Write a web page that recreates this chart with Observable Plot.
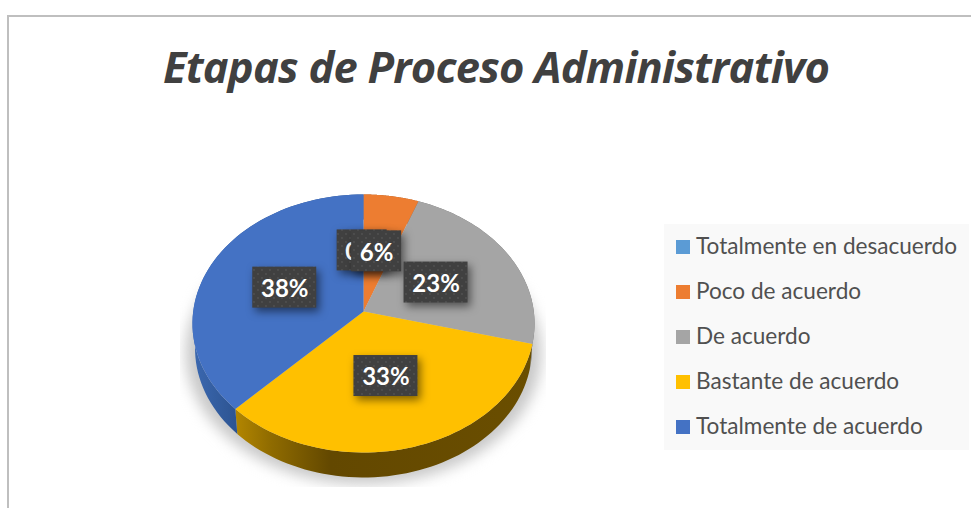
<!DOCTYPE html>
<html>
<head>
<meta charset="utf-8">
<script src="https://cdn.jsdelivr.net/npm/d3@7"></script>
<script src="https://cdn.jsdelivr.net/npm/@observablehq/plot@0.6"></script>
<style>
  html, body { margin: 0; padding: 0; background: #fff; overflow: hidden; }
  #stage { position: relative; width: 971px; height: 508px; overflow: hidden; font-family: Lato, sans-serif; }
  #stage svg { position: absolute; left: 0; top: 0; background: transparent; }
  #border { position: absolute; left: 7px; top: 15px; width: 980px; height: 520px; border-left: 2px solid #bfbfbf; border-top: 2px solid #bfbfbf; }
  #title { position: absolute; left: 0; width: 992px; top: 36px; margin: 0; text-align: center; font: italic 700 43.5px/62px "Open Sans", sans-serif; letter-spacing: -0.77px; color: #404040; white-space: nowrap; font-variant-ligatures: none; }
  #legend { position: absolute; left: 664px; top: 224px; width: 305px; height: 226px; background: #f9f9f9; color: #505050; font-size: 22.6px; font-variant-ligatures: none; }
  .row { position: absolute; left: 12px; height: 26px; display: flex; align-items: center; white-space: nowrap; }
  .swatch { width: 14px; height: 14px; margin-right: 6px; flex: none; }
  .name { position: relative; top: -2px; }
</style>
</head>
<body>
<div id="stage">
  <div id="border"></div>
  <h1 id="title"></h1>
  <div id="legend"></div>
</div>
<script>
const chartTitle = "Etapas de Proceso Administrativo";
const categories = ["Totalmente en desacuerdo", "Poco de acuerdo", "De acuerdo", "Bastante de acuerdo", "Totalmente de acuerdo"];
const values = [0, 5.7, 23.3, 33.4, 37.6];
const colors = ["#5b9bd5", "#ed7d31", "#a5a5a5", "#ffc000", "#4472c4"];
const wallFills = ["#3a6ea5", "#a04f15", "#6f6f6f", "url(#wallYellow)", "url(#wallBlue)"];

// Perspective view of the pie: unit circle tilted, nearer edge larger
const K = 0.093;
const rimDrop = 0.195;   // depth of the pie, in y units
const rimScale = 0.985;
const project = (f, r = 1) => {
  const a = f * 2 * Math.PI, X = r * Math.sin(a), Y = r * Math.cos(a), d = 1 + K * Y;
  return [X / d, Y / d];
};
const total = d3.sum(values);
let running = 0;
const slices = categories.map((name, i) => {
  const start = running / total;
  running += values[i];
  const end = running / total;
  return {name, value: values[i], start, end, wall: wallFills[i]};
});
const arcFractions = (s) => d3.range(0, 61).map((i) => s.start + (s.end - s.start) * i / 60);

const facePoints = slices.flatMap((s) =>
  s.value === 0 ? [] : [[0, 0], ...arcFractions(s).map((f) => project(f))].map(([x, y]) => ({name: s.name, x, y}))
);
const wallPoints = (s) => {
  const top = arcFractions(s).map((f) => project(f));
  const bottom = top.slice().reverse().map(([x, y]) => [x * rimScale, y - rimDrop]);
  return [...top, ...bottom].map(([x, y]) => ({x, y}));
};
const shadowPoints = d3.range(0, 120).map((i) => {
  const [x, y] = project(i / 120);
  return {x: x * 1.04, y: y * 1.02 - rimDrop - 0.03};
});

// Label boxes sit half way out along each slice's middle angle
const boxW = (d) => (d.value >= 10 ? 32 : 25) / 170.3;
const boxH = 20.5 / 127.9;
const labelNudge = -0.008;
const labels = slices.map((s) => {
  const [x, y] = project((s.start + s.end) / 2, 0.5);
  return {...s, x: x + labelNudge, y, label: Math.round(s.value) + "%"};
});

const defs = () => {
  const d = d3.create("svg:defs");
  const grad = (id, stops) => {
    const g = d.append("linearGradient").attr("id", id).attr("x1", 0).attr("x2", 1).attr("y1", 0).attr("y2", 0);
    stops.forEach(([o, c]) => g.append("stop").attr("offset", o).attr("stop-color", c));
  };
  grad("wallYellow", [[0, "#b38600"], [0.12, "#8f6b00"], [0.32, "#634800"], [1, "#6a4e00"]]);
  grad("wallBlue", [[0, "#3b68b0"], [0.27, "#2c5390"], [1, "#2c5390"]]);
  const p = d.append("pattern").attr("id", "dots").attr("patternUnits", "userSpaceOnUse").attr("width", 8).attr("height", 8);
  p.append("rect").attr("width", 8).attr("height", 8).attr("fill", "#404040");
  p.append("circle").attr("cx", 2).attr("cy", 2).attr("r", 0.9).attr("fill", "#525252");
  p.append("circle").attr("cx", 6).attr("cy", 6).attr("r", 0.9).attr("fill", "#525252");
  return d.node();
};

const chart = Plot.plot({
  width: 971,
  height: 508,
  marginLeft: 180,
  marginRight: 425,
  marginTop: 150,
  marginBottom: 21,
  x: {axis: null, domain: [-1.0746, 1.0746]},
  y: {axis: null, domain: [-1.376, 1.2588]},
  color: {domain: categories, range: colors},
  style: {background: "transparent"},
  marks: [
    defs,
    Plot.line(shadowPoints, {x: "x", y: "y", curve: "linear-closed", fill: "#c8c8c8", stroke: "none", imageFilter: "blur(7px)", clip: true}),
    ...slices.filter((s) => s.value > 0).map((s) =>
      Plot.line(wallPoints(s), {x: "x", y: "y", curve: "linear-closed", fill: s.wall, stroke: "none"})
    ),
    Plot.line(facePoints, {x: "x", y: "y", z: "name", fill: "name", stroke: "none", curve: "linear-closed"}),
    ...labels.flatMap((d) => [
      Plot.rect([d], {
        x1: (v) => v.x - boxW(v), x2: (v) => v.x + boxW(v),
        y1: (v) => v.y - boxH, y2: (v) => v.y + boxH,
        fill: "url(#dots)",
        imageFilter: "drop-shadow(3px 4px 4px rgba(0,0,0,0.5))"
      }),
      Plot.text([d], {x: "x", y: "y", dy: 1.5, text: "label", fill: "white", fontSize: 24, fontWeight: 700, fontFamily: "Lato, sans-serif"})
    ])
  ]
});

const stage = document.getElementById("stage");
stage.insertBefore(chart, document.getElementById("title"));
document.getElementById("title").textContent = chartTitle;
const legend = document.getElementById("legend");
categories.forEach((name, i) => {
  const row = document.createElement("div");
  row.className = "row";
  row.style.top = (10 + i * 45) + "px";
  const sw = document.createElement("span");
  sw.className = "swatch";
  sw.style.background = colors[i];
  const tx = document.createElement("span");
  tx.className = "name";
  tx.textContent = name;
  row.append(sw, tx);
  legend.append(row);
});
</script>
</body>
</html>
